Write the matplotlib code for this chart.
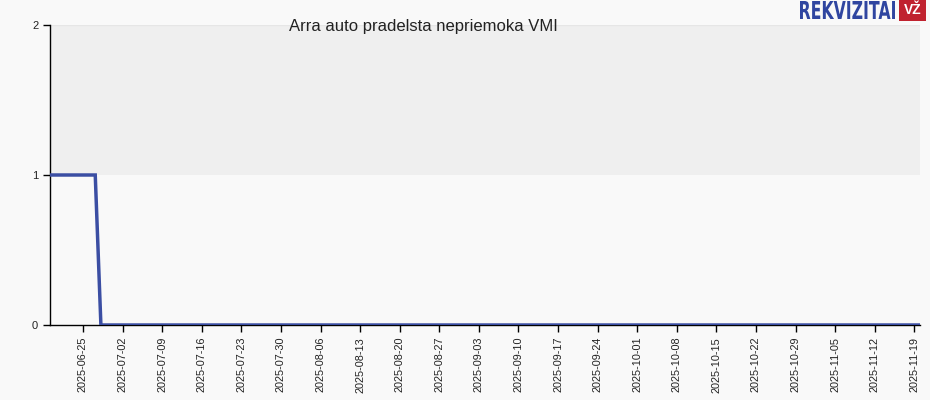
import matplotlib
matplotlib.use("Agg")
import matplotlib.pyplot as plt
from matplotlib.textpath import TextPath
from matplotlib.patches import PathPatch
from matplotlib.font_manager import FontProperties
from matplotlib.transforms import Affine2D
from datetime import datetime

plt.rcParams['font.family'] = ['Liberation Sans', 'DejaVu Sans']

title = "Arra auto pradelsta nepriemoka VMI"
dates = ["2025-06-19", "2025-06-27 04:00", "2025-06-28 04:00", "2025-11-20"]
values = [1, 1, 0, 0]
tick_labels = ["2025-06-25", "2025-07-02", "2025-07-09", "2025-07-16", "2025-07-23",
               "2025-07-30", "2025-08-06", "2025-08-13", "2025-08-20", "2025-08-27",
               "2025-09-03", "2025-09-10", "2025-09-17", "2025-09-24", "2025-10-01",
               "2025-10-08", "2025-10-15", "2025-10-22", "2025-10-29", "2025-11-05",
               "2025-11-12", "2025-11-19"]
yticks = [0, 1, 2]

def parse(d):
    return datetime.strptime(d, "%Y-%m-%d %H:%M") if " " in d else datetime.strptime(d, "%Y-%m-%d")

x = [parse(d) for d in dates]
ticks = [parse(d) for d in tick_labels]

W, H = 930, 400
fig = plt.figure(figsize=(9.3, 4), dpi=100, facecolor="#f9f9f9")
ax = fig.add_axes([50/W, 1-325/H, 870/W, 300/H])
ax.set_facecolor("#f9f9f9")

xmin = datetime(2025, 6, 19, 4)
xmax = datetime(2025, 11, 20, 0)
ax.axhspan(1, 2, color="#efefef", zorder=0, lw=0)
ax.axhline(2, color="#e6e6e6", lw=1, zorder=0.5)
ax.plot(x, values, color="#3b4ea3", lw=2.5, zorder=3, solid_joinstyle="miter")

ax.set_xlim(xmin, xmax)
ax.set_ylim(0, 2)
ax.set_yticks(yticks)
ax.set_yticklabels([str(v) for v in yticks], fontsize=8)
ax.set_xticks(ticks)
ax.set_xticklabels(tick_labels, rotation=90, fontsize=7.8)
ax.tick_params(axis='both', length=5, width=1, color="black", labelcolor="#222222")
for s in ["top", "right"]:
    ax.spines[s].set_visible(False)
for s in ["left", "bottom"]:
    ax.spines[s].set_color("black")
    ax.spines[s].set_linewidth(1)

fig.text(423/W, 1-26.5/H, title, ha="center", va="center", fontsize=12, color="#222222")

# logo: condensed bold text drawn as a scaled path in pixel coordinates
fp = FontProperties(family="DejaVu Sans", weight="bold")
tp = TextPath((0, 0), "REKVIZITAI", size=10, prop=fp)
bb = tp.get_extents()
tx0, ty0, tx1, ty1 = 800, 1, 895, 19  # target box in pixels (from top)
sx = (tx1 - tx0) / bb.width
sy = (ty1 - ty0) / bb.height
tr = Affine2D().translate(-bb.x0, -bb.y0).scale(sx, sy).translate(tx0, H - ty1)
logo = PathPatch(tr.transform_path(tp), facecolor="#2f45a0", edgecolor="none",
                 transform=None)
fig.patches.append(logo)
fig.patches.append(plt.Rectangle((899/W, 1-21/H), 27/W, 21/H, transform=fig.transFigure,
                                 facecolor="#c0222f", edgecolor="none"))
fig.text(912.5/W, 1-10.5/H, "VŽ", ha="center", va="center", fontsize=10,
         fontweight="bold", color="white")

fig.savefig("out.png", dpi=100, facecolor=fig.get_facecolor())
